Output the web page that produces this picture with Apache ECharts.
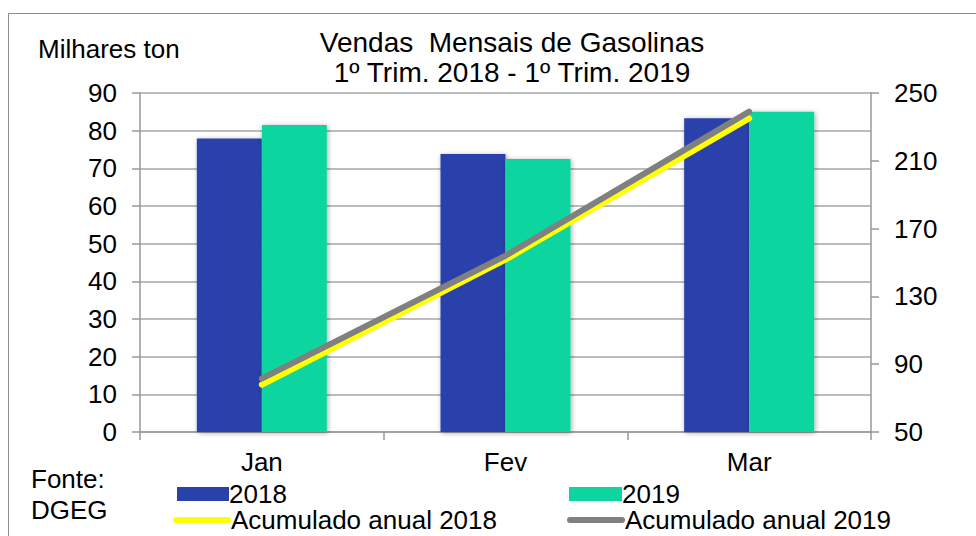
<!DOCTYPE html>
<html>
<head>
<meta charset="utf-8">
<script src="https://cdn.jsdelivr.net/npm/echarts@6/dist/echarts.min.js"></script>
<style>
html,body{margin:0;padding:0;background:#fff;}
#c{width:976px;height:536px;}
</style>
</head>
<body>
<div id="c"></div>
<script>
const categories = ['Jan', 'Fev', 'Mar'];
const vendas2018 = [77.9, 73.8, 83.3];
const vendas2019 = [81.5, 72.5, 85.0];
const acum2018 = [77.9, 151.7, 235.0];
const acum2019 = [81.5, 154.0, 239.0];
const leftTicks = {min: 0, max: 90, interval: 10};
const rightTicks = {min: 50, max: 250, interval: 40};

const FONT = '"Liberation Sans", Arial, sans-serif';
const CAPSULE = 'path://M3,0 L55,0 A3,3 0 0 1 55,6 L3,6 A3,3 0 0 1 3,0 Z';
const legendText = {fontFamily: FONT, fontSize: 26, color: '#000', lineHeight: 24, padding: [0, 0, 0, -5]};
function leg(name, left, top, icon, w, h, color) {
  return {data: [{name: name, icon: icon, itemStyle: {color: color, borderWidth: 0}}], left: left, top: top,
          itemWidth: w, itemHeight: h, textStyle: legendText, selectedMode: false,
          lineStyle: {width: 0, opacity: 0}};
}
const chart = echarts.init(document.getElementById('c'), null, {renderer: 'svg'});
chart.setOption({
  backgroundColor: '#fff',
  animation: false,
  textStyle: {fontFamily: FONT, color: '#000'},
  graphic: [{
    type: 'rect', shape: {x: 8.5, y: 13.5, width: 1000, height: 560},
    style: {fill: 'none', stroke: '#8c8c8c', lineWidth: 1}, z: 0, silent: true
  }],
  title: [
    {text: 'Vendas  Mensais de Gasolinas\n1º Trim. 2018 - 1º Trim. 2019', left: 507, top: 22, textAlign: 'center',
     textStyle: {fontFamily: FONT, fontSize: 28, fontWeight: 'normal', color: '#000', lineHeight: 30}},
    {text: 'Milhares ton', left: 33, top: 31,
     textStyle: {fontFamily: FONT, fontSize: 26, fontWeight: 'normal', color: '#000'}},
    {text: 'Fonte:\nDGEG', left: 26, top: 458,
     textStyle: {fontFamily: FONT, fontSize: 26, fontWeight: 'normal', color: '#000', lineHeight: 31}}
  ],
  legend: [
    leg('2018', 172, 476, 'rect', 52, 14, '#2941AB'),
    leg('Acumulado anual 2018', 168, 502, CAPSULE, 58, 6, '#FFFF00'),
    leg('2019', 564, 476, 'rect', 53, 14, '#0ED5A0'),
    leg('Acumulado anual 2019', 562, 502, CAPSULE, 58, 6, '#808080')
  ],
  grid: {left: 140, right: 105, top: 93, bottom: 104, containLabel: false},
  xAxis: {
    type: 'category', data: categories,
    axisLine: {show: true, lineStyle: {color: '#999', width: 1.5}},
    axisTick: {show: true, length: 8, lineStyle: {color: '#999', width: 1.5}},
    axisLabel: {fontFamily: FONT, fontSize: 26, color: '#000', margin: 17}
  },
  yAxis: [
    {type: 'value', min: leftTicks.min, max: leftTicks.max, interval: leftTicks.interval,
     axisLine: {show: true, lineStyle: {color: '#999', width: 1.5}},
     axisTick: {show: true, length: 8, lineStyle: {color: '#999', width: 1.5}},
     splitLine: {show: true, lineStyle: {color: '#a6a6a6', width: 1.5}},
     axisLabel: {fontFamily: FONT, fontSize: 26, color: '#000', margin: 23}},
    {type: 'value', min: rightTicks.min, max: rightTicks.max, interval: rightTicks.interval, position: 'right',
     axisLine: {show: true, lineStyle: {color: '#999', width: 1.5}},
     axisTick: {show: true, length: 8, lineStyle: {color: '#999', width: 1.5}},
     splitLine: {show: false},
     axisLabel: {fontFamily: FONT, fontSize: 26, color: '#000', margin: 23}}
  ],
  series: [
    {name: '2018', type: 'bar', data: vendas2018, barWidth: 65, barGap: '0%',
     itemStyle: {color: '#2941AB', shadowBlur: 5, shadowColor: 'rgba(0,0,0,0.35)', shadowOffsetX: 1, shadowOffsetY: 1}},
    {name: '2019', type: 'bar', data: vendas2019, barWidth: 65, barGap: '0%',
     itemStyle: {color: '#0ED5A0', shadowBlur: 5, shadowColor: 'rgba(0,0,0,0.35)', shadowOffsetX: 1, shadowOffsetY: 1}},
    {name: 'Acumulado anual 2018', type: 'line', yAxisIndex: 1, data: acum2018, symbol: 'none',
     lineStyle: {color: '#FFFF00', width: 6, cap: 'round'}, itemStyle: {color: '#FFFF00'}, z: 3},
    {name: 'Acumulado anual 2019', type: 'line', yAxisIndex: 1, data: acum2019, symbol: 'none',
     lineStyle: {color: '#808080', width: 6, cap: 'round'}, itemStyle: {color: '#808080'}, z: 4}
  ]
});
</script>
</body>
</html>
